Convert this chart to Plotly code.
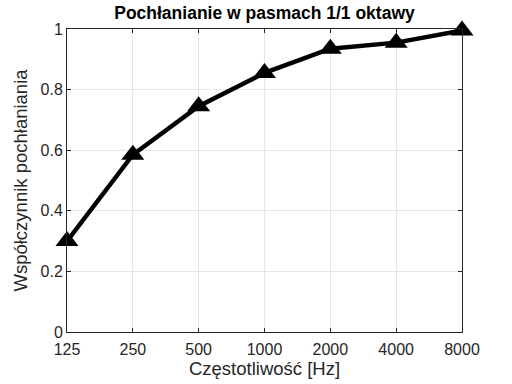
import plotly.graph_objects as go

freqs = ["125", "250", "500", "1000", "2000", "4000", "8000"]
absorption = [0.30, 0.585, 0.745, 0.855, 0.935, 0.955, 0.995]
y_ticks = [0, 0.2, 0.4, 0.6, 0.8, 1]
y_tick_labels = ["0", "0.2", "0.4", "0.6", "0.8", "1"]

fig = go.Figure()
fig.add_trace(go.Scatter(
    x=freqs, y=absorption, mode="lines+markers",
    line=dict(color="black", width=4.5),
    marker=dict(symbol="triangle-up", size=20, color="black"),
    cliponaxis=False, showlegend=False,
))

font_family = "Liberation Sans, Arial, sans-serif"
axis_common = dict(
    showline=True, linecolor="#262626", linewidth=1, mirror="ticks",
    ticks="inside", ticklen=4, tickcolor="#262626",
    showgrid=True, gridcolor="#e6e6e6", gridwidth=1,
    zeroline=False, automargin=False,
    tickfont=dict(family=font_family, size=16, color="#262626"),
)

fig.update_layout(
    width=512, height=384,
    margin=dict(l=67, r=50, t=29, b=52),
    paper_bgcolor="white", plot_bgcolor="white",
    title=dict(text="<b>Pochłanianie w pasmach 1/1 oktawy</b>",
               x=(67 + 462) / 2 / 512, xanchor="center",
               y=1 - 13 / 384, yanchor="middle",
               font=dict(family=font_family, size=17.5, color="black")),
    xaxis=dict(type="category", range=[0, 6], ticklabelstandoff=3,
               title=dict(text="Częstotliwość [Hz]", standoff=2,
                          font=dict(family=font_family, size=18.5, color="#262626")),
               **axis_common),
    yaxis=dict(range=[0, 1], tickvals=y_ticks, ticktext=y_tick_labels,
               title=dict(text="Współczynnik pochłaniania", standoff=8,
                          font=dict(family=font_family, size=18.5, color="#262626")),
               **axis_common),
)

fig.write_html("out.html", config={"displayModeBar": False},
               post_script="document.body.style.margin='0px';")
